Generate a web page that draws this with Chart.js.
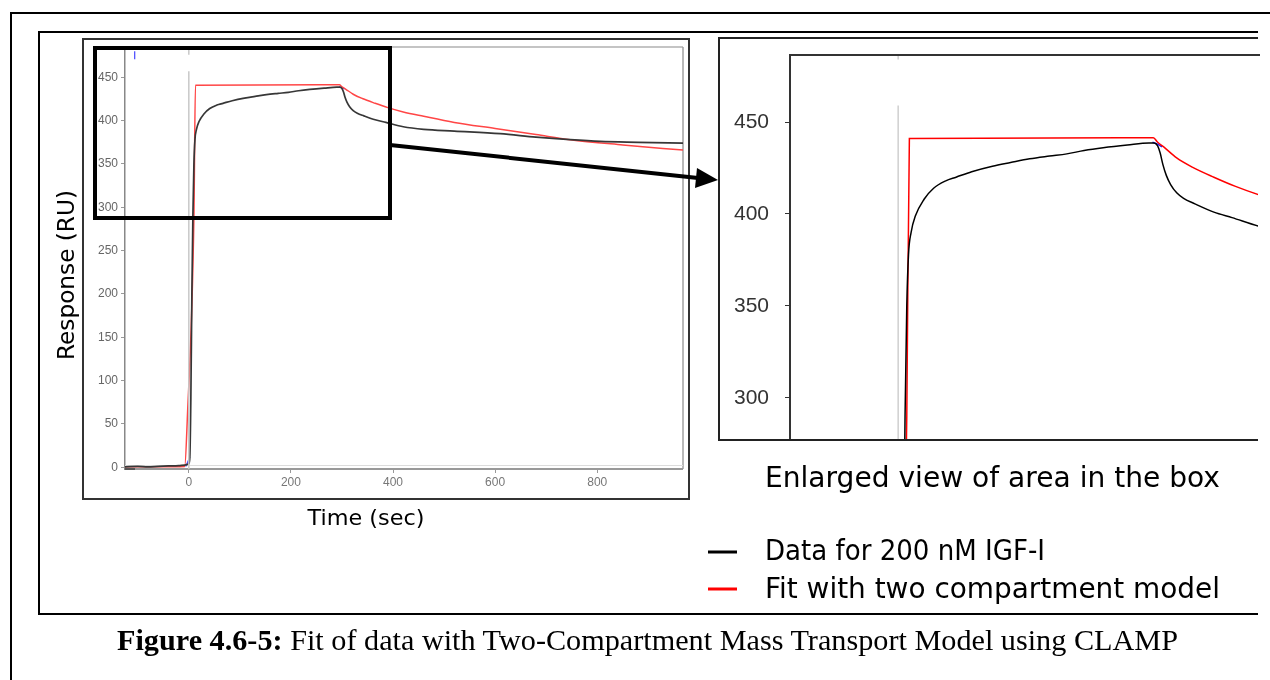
<!DOCTYPE html>
<html>
<head>
<meta charset="utf-8">
<script src="https://cdn.jsdelivr.net/npm/chart.js@4.4.1/dist/chart.umd.min.js"></script>
<style>
    html, body { margin: 0; padding: 0; background: #fff; }
    body { width: 1270px; height: 680px; position: relative; overflow: hidden; }
    #leftWrap { position: absolute; left: 84px; top: 40px; width: 604px; height: 458px; }
    #rightWrap { position: absolute; left: 720px; top: 39px; width: 540px; height: 402px; }
    svg { position: absolute; left: 0; top: 0; }
</style>
</head>
<body>
<div id="leftWrap"><canvas id="fullGraph"></canvas></div>
<div id="rightWrap"><canvas id="zoomGraph"></canvas></div>

<svg width="1270" height="680" style="pointer-events:none">
    <!-- page / figure frames -->
    <line x1="11" y1="13" x2="1270" y2="13" stroke="#000" stroke-width="2"/>
    <line x1="11" y1="12" x2="11" y2="680" stroke="#000" stroke-width="2"/>
    <polyline points="1258,32 39,32 39,614 1258,614" fill="none" stroke="#000" stroke-width="2"/>
    <rect x="83" y="39" width="606" height="460" fill="none" stroke="#333" stroke-width="2"/>
    <polyline points="1258,38 719,38 719,440 1258,440" fill="none" stroke="#222" stroke-width="2"/>

    <!-- box + arrow -->
    <rect x="95" y="48" width="295" height="170" fill="none" stroke="#000" stroke-width="4"/>
    <line x1="390" y1="145" x2="698" y2="178" stroke="#000" stroke-width="4"/>
    <polygon points="718,180 697,168 695,188" fill="#000"/>

    <!-- axis titles -->
    <text x="74" y="275" transform="rotate(-90 74 275)" text-anchor="middle" textLength="170" lengthAdjust="spacingAndGlyphs"
          font-family="DejaVu Sans" font-size="23" fill="#000">Response (RU)</text>
    <text x="366" y="525" text-anchor="middle" textLength="117" lengthAdjust="spacingAndGlyphs"
          font-family="DejaVu Sans" font-size="22" fill="#000">Time (sec)</text>

    <!-- legend -->
    <text x="765" y="487" textLength="455" lengthAdjust="spacingAndGlyphs" font-family="DejaVu Sans" font-size="28" fill="#000">Enlarged view of area in the box</text>
    <line x1="708" y1="552" x2="737" y2="552" stroke="#000" stroke-width="3"/>
    <text x="765" y="560" textLength="280" lengthAdjust="spacingAndGlyphs" font-family="DejaVu Sans" font-size="28" fill="#000">Data for 200 nM IGF-I</text>
    <line x1="708" y1="589" x2="737" y2="589" stroke="#ff0000" stroke-width="3"/>
    <text x="765" y="598" textLength="455" lengthAdjust="spacingAndGlyphs" font-family="DejaVu Sans" font-size="28" fill="#000">Fit with two compartment model</text>

    <!-- caption -->
    <text x="117" y="650" textLength="1061" lengthAdjust="spacingAndGlyphs" font-family="Liberation Serif" font-size="30" fill="#000"><tspan font-weight="bold">Figure 4.6-5:</tspan> Fit of data with Two-Compartment Mass Transport Model using CLAMP</text>
</svg>

<script>
// sensorgram, 200 nM IGF-I (time in sec, response in RU)
const data_time = [-125, -100, -80, -60, -40, -20, -8, 0, 2, 4, 6, 8, 10, 12, 15, 20, 30, 41, 55, 67, 85, 109, 130, 152, 175, 195, 215, 237, 265, 290, 296, 300, 303, 306, 310, 315, 322, 330, 343, 365, 386, 420, 460, 520, 610, 680, 747, 806, 880, 968];
const data_ru   = [0.5, 1, 0.5, 1, 1.5, 2, 2.5, 4, 12, 80, 200, 290, 350, 378, 390, 399, 408, 414, 418, 420, 423, 426, 428, 430, 431.5, 432.7, 434.5, 436, 437.5, 438.6, 438.6, 437, 433, 427, 421, 416, 411.5, 408.5, 405.5, 401, 398, 393, 390, 388, 385, 381, 378, 376, 375, 374];

// two compartment model fit
const fit_time = [-125, -60, -8, -3, 10, 13, 295, 300, 307, 322, 340, 365, 390, 420, 460, 520, 600, 680, 747, 850, 968];
const fit_ru   = [0.5, 0.5, 1, 55, 290, 441, 441.5, 439, 436.5, 430.5, 425.5, 420, 415, 410, 405, 398, 391, 384, 378, 372, 366];

// short blue trace pieces that show at the corners
const blue_time = [-6, 2, null, 294, 300, 305];
const blue_ru   = [1, 12, null, 439, 438, 436.5];

// little blue cursor at the top left of the full view
const cursor_time = [-106, -106];
const cursor_ru   = [480, 471];

// injection marker
const inject_time = [0, 0, null, 0, 0];
const inject_full = [-2, 457, null, 476, 485];
const inject_zoom = [277, 459, null, 484, 486.5];

const full_x_ticks = [0, 200, 400, 600, 800];
const full_y_ticks = [0, 50, 100, 150, 200, 250, 300, 350, 400, 450];
const zoom_y_ticks = [300, 350, 400, 450];

function pts(xs, ys) {
    let out = [];
    for (let i = 0; i < xs.length; i++) {
        out.push({x: xs[i] === null ? 0 : xs[i], y: ys[i]});
    }
    return out;
}

function no_pad(s) {
    s.paddingTop = 0;
    s.paddingBottom = 0;
    s.paddingLeft = 0;
    s.paddingRight = 0;
}

const fullFrame = {
    id: 'fullFrame',
    beforeDatasetsDraw(chart) {
        const c = chart.ctx, a = chart.chartArea;
        c.save();
        c.strokeStyle = '#c4c4c4'; c.lineWidth = 2;
        c.beginPath(); c.moveTo(a.left, a.top); c.lineTo(a.right, a.top); c.stroke();
        c.strokeStyle = '#a0a0a0'; c.lineWidth = 1.5;
        c.beginPath(); c.moveTo(a.right, a.top); c.lineTo(a.right, a.bottom); c.stroke();
        c.strokeStyle = '#dcdcdc'; c.lineWidth = 1;
        c.beginPath(); c.moveTo(a.left, a.bottom - 3.5); c.lineTo(a.right, a.bottom - 3.5); c.stroke();
        c.strokeStyle = '#999'; c.lineWidth = 2;
        c.beginPath(); c.moveTo(a.left, a.bottom); c.lineTo(a.right, a.bottom); c.stroke();
        c.strokeStyle = '#555'; c.lineWidth = 2;
        c.beginPath(); c.moveTo(a.left, a.bottom); c.lineTo(a.left + 10, a.bottom); c.stroke();
        c.restore();
    }
};

const zoomFrame = {
    id: 'zoomFrame',
    afterDraw(chart) {
        const c = chart.ctx, a = chart.chartArea;
        c.save();
        c.strokeStyle = '#333'; c.lineWidth = 2;
        c.beginPath(); c.moveTo(a.left, a.top); c.lineTo(chart.width, a.top); c.stroke();
        c.restore();
    }
};

const canv = document.getElementById('fullGraph').getContext('2d');
const graph = new Chart(canv, {
    type: 'line',
    data: {
        datasets: [{
            data: pts(inject_time, inject_full),
            borderColor: '#c8c8c8',
            borderWidth: 1.5,
            pointRadius: 0,
            spanGaps: false
        }, {
            data: pts(data_time, data_ru),
            borderColor: 'rgba(55, 55, 55, 1)',
            borderWidth: 1.7,
            pointRadius: 0,
            cubicInterpolationMode: 'monotone'
        }, {
            data: pts(fit_time, fit_ru),
            borderColor: 'rgba(255, 70, 70, 1)',
            borderWidth: 1.5,
            pointRadius: 0,
            cubicInterpolationMode: 'monotone'
        }, {
            data: pts(blue_time, blue_ru),
            borderColor: 'rgba(70, 70, 255, 1)',
            borderWidth: 1.2,
            pointRadius: 0,
            spanGaps: false
        }, {
            data: pts(cursor_time, cursor_ru),
            borderColor: 'rgba(70, 70, 255, 1)',
            borderWidth: 1.2,
            pointRadius: 0
        }]
    },
    options: {
        animation: false,
        responsive: true,
        maintainAspectRatio: false,
        layout: {
            padding: {top: 7, right: 5, left: 0, bottom: 0}
        },
        plugins: {
            legend: { display: false },
            tooltip: { enabled: false }
        },
        scales: {
            x: {
                type: 'linear',
                min: -125,
                max: 968,
                afterBuildTicks: (s) => { s.ticks = full_x_ticks.map(v => ({value: v})); },
                afterFit: (s) => { s.height = 29; no_pad(s); },
                ticks: {
                    color: '#777',
                    font: { family: 'Liberation Sans', size: 12 },
                    padding: 2,
                    maxRotation: 0
                },
                grid: {
                    drawOnChartArea: false,
                    tickLength: 4,
                    color: '#999'
                },
                border: { display: false }
            },
            y: {
                type: 'linear',
                min: -2,
                max: 485,
                afterBuildTicks: (s) => { s.ticks = full_y_ticks.map(v => ({value: v})); },
                afterFit: (s) => { s.width = 41; no_pad(s); },
                ticks: {
                    color: '#666',
                    font: { family: 'Liberation Sans', size: 12 },
                    padding: 3
                },
                grid: {
                    drawOnChartArea: false,
                    tickLength: 4,
                    color: '#999'
                },
                border: { display: true, color: '#888', width: 1.5 }
            }
        }
    },
    plugins: [fullFrame]
});

const canv2 = document.getElementById('zoomGraph').getContext('2d');
const graph2 = new Chart(canv2, {
    type: 'line',
    data: {
        datasets: [{
            data: pts(inject_time, inject_zoom),
            borderColor: '#c4c4c4',
            borderWidth: 1.2,
            pointRadius: 0,
            spanGaps: false
        }, {
            data: pts(data_time, data_ru),
            borderColor: '#000',
            borderWidth: 1.5,
            pointRadius: 0,
            cubicInterpolationMode: 'monotone'
        }, {
            data: pts(fit_time, fit_ru),
            borderColor: '#ff0000',
            borderWidth: 1.5,
            pointRadius: 0,
            cubicInterpolationMode: 'monotone'
        }, {
            data: pts(blue_time, blue_ru),
            borderColor: '#2020ff',
            borderWidth: 1.5,
            pointRadius: 0,
            spanGaps: false
        }]
    },
    options: {
        animation: false,
        responsive: true,
        maintainAspectRatio: false,
        layout: {
            padding: {top: 16, right: 2, left: 0, bottom: 1}
        },
        plugins: {
            legend: { display: false },
            tooltip: { enabled: false }
        },
        scales: {
            x: {
                type: 'linear',
                min: -125,
                max: 416,
                display: false
            },
            y: {
                type: 'linear',
                min: 277,
                max: 486.5,
                afterBuildTicks: (s) => { s.ticks = zoom_y_ticks.map(v => ({value: v})); },
                afterFit: (s) => { s.width = 70; no_pad(s); },
                ticks: {
                    color: '#333',
                    font: { family: 'Liberation Sans', size: 21 },
                    padding: 16
                },
                grid: {
                    drawOnChartArea: false,
                    tickLength: 5,
                    color: '#333'
                },
                border: { display: true, color: '#333', width: 2 }
            }
        }
    },
    plugins: [zoomFrame]
});
</script>
</body>
</html>
